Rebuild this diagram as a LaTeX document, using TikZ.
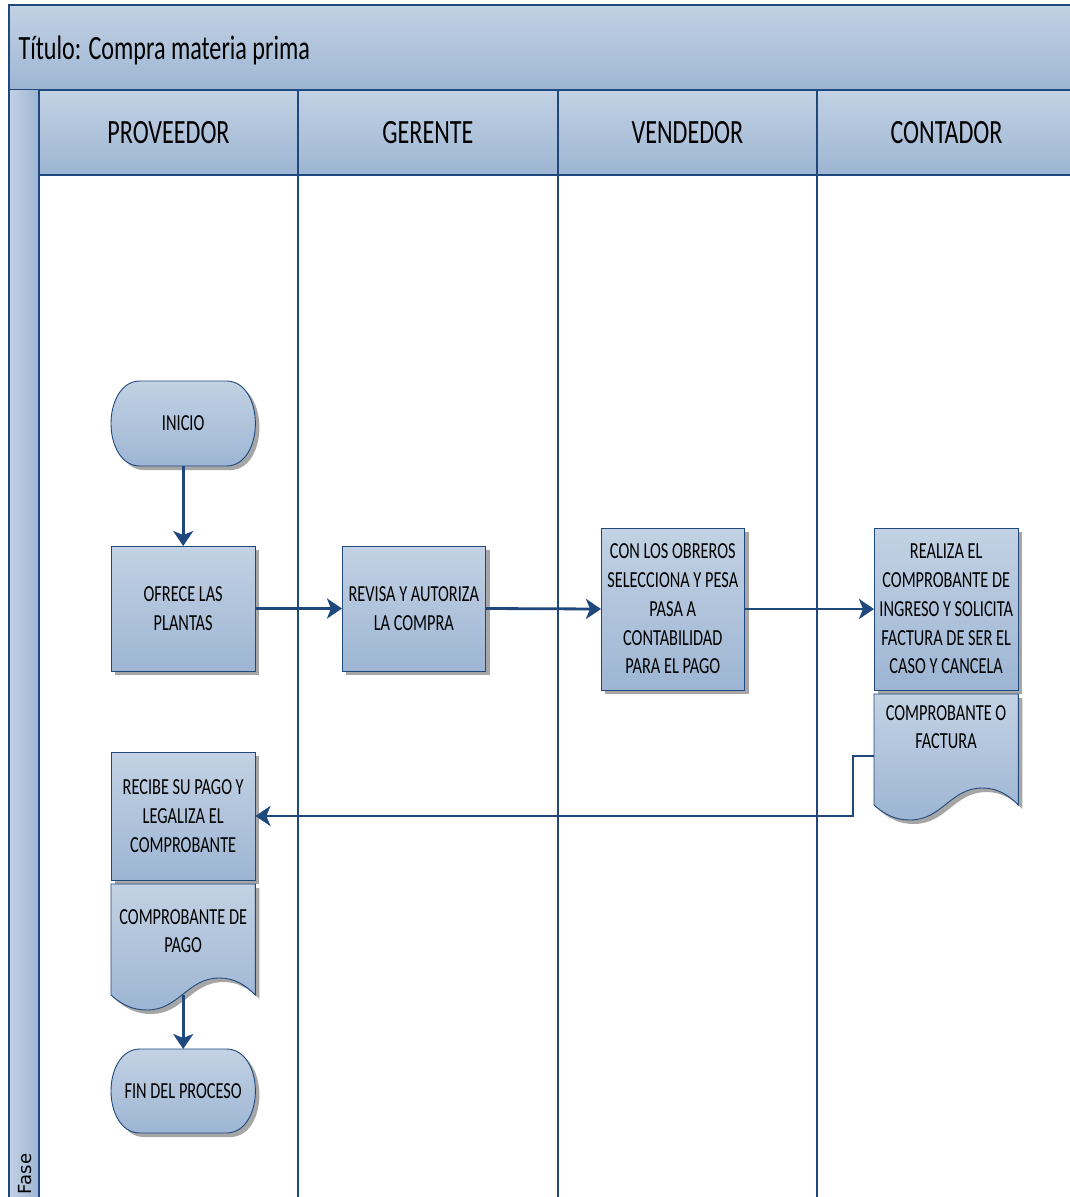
\documentclass[tikz,border=0pt]{standalone}
\usepackage{fontspec}
\usetikzlibrary{arrows.meta,shadows}
\setmainfont{Carlito}
\newfontfamily\narrowfont[FakeStretch=0.71]{Carlito}
\newfontfamily\fasefont{DejaVu Sans}
\definecolor{edge}{HTML}{1F497D}
\definecolor{shadetop}{HTML}{C3D2E4}
\definecolor{shadebot}{HTML}{9DB5D3}
\definecolor{shadowgray}{HTML}{A6A6A6}
\tikzset{
  x=1pt,y=-1pt,
  every node/.style={outer sep=0pt},
  fillshade/.style={top color=shadetop,bottom color=shadebot},
  band/.style={fillshade,draw=edge,line width=1.8pt,inner sep=0pt,anchor=north west,font=\narrowfont\fontsize{34}{40}\selectfont},
  bandline/.style={draw=edge,line width=1.8pt},
  flowbox/.style={fillshade,draw=edge,line width=0.9pt,inner sep=0pt,anchor=north west,align=center,
    font=\narrowfont\fontsize{23}{28.7}\selectfont,
    drop shadow={shadow xshift=4pt,shadow yshift=-4pt,fill=shadowgray,opacity=1}},
  flowshape/.style={fillshade,draw=edge,line width=0.9pt},
  hidden/.style={inner sep=0pt,anchor=north west,align=center},
  flowtext/.style={inner sep=0pt,align=center,font=\narrowfont\fontsize{23}{28.7}\selectfont},
  flowarrow/.style={draw=edge,line width=2.8pt,-{Stealth[length=15pt,width=20pt,inset=4pt]}},
}
% terminal: name, x, y, w, h, text
\newcommand{\termpath}[4]{(#1+29,#2) -- (#1+#3-29,#2) .. controls (#1+#3-10,#2) and (#1+#3,#2+#4*0.25) .. (#1+#3,#2+#4*0.5) .. controls (#1+#3,#2+#4*0.75) and (#1+#3-10,#2+#4) .. (#1+#3-29,#2+#4) -- (#1+29,#2+#4) .. controls (#1+10,#2+#4) and (#1,#2+#4*0.75) .. (#1,#2+#4*0.5) .. controls (#1,#2+#4*0.25) and (#1+10,#2) .. (#1+29,#2) -- cycle}
\newcommand{\terminal}[6]{%
  \fill[shadowgray,shift={(4pt,-4pt)}] \termpath{#2}{#3}{#4}{#5};%
  \path[flowshape] \termpath{#2}{#3}{#4}{#5};%
  \node[hidden,minimum width=#4pt,minimum height=#5pt,font=\narrowfont\fontsize{23}{28.7}\selectfont] (#1) at (#2,#3) {#6};%
}
% document: x, y(top), w, h(to left wave end)
\newcommand{\docpath}[4]{(#1,#2) -- (#1+#3,#2) -- (#1+#3,#2+#4) .. controls (#1+#3-11,#2+#4-11) and (#1+#3-22,#2+#4-17) .. (#1+#3-36,#2+#4-17) .. controls (#1+#3-68,#2+#4-17) and (#1+68,#2+#4+15) .. (#1+36,#2+#4+15) .. controls (#1+22,#2+#4+15) and (#1+11,#2+#4+10) .. (#1,#2+#4) -- cycle}
\newcommand{\docshape}[4]{%
  \fill[shadowgray,shift={(4pt,-4pt)}] \docpath{#1}{#2}{#3}{#4};%
  \path[flowshape] \docpath{#1}{#2}{#3}{#4};%
}
\begin{document}
\begin{tikzpicture}
\useasboundingbox (0,0) rectangle (1070,1197);
\fill[white] (0,0) rectangle (1070,1197);
% title band
\node[band,minimum width=1070pt,minimum height=85pt] (titleband) at (9,5) {};
\node[inner sep=0pt,anchor=west,font=\narrowfont\fontsize{34}{40}\selectfont] (titletext) at (18.5,50) {Título: Compra materia prima};
% phase strip
\path[left color=shadetop,right color=shadebot] (9,90) rectangle (39,1205);
\draw[bandline] (9,90) -- (9,1205);
\draw[bandline] (39,90) -- (39,1205);
\node[rotate=90,inner sep=0pt,font=\fasefont\fontsize{18}{20}\selectfont] (fase) at (25,1174) {Fase};
% headers
\node[band,minimum width=259pt,minimum height=85pt,text depth=-1pt] (h1) at (39,90) {PROVEEDOR};
\node[band,minimum width=260pt,minimum height=85pt,text depth=-1pt] (h2) at (298,90) {GERENTE};
\node[band,minimum width=259pt,minimum height=85pt,text depth=-1pt] (h3) at (558,90) {VENDEDOR};
\node[band,minimum width=259pt,minimum height=85pt,text depth=-1pt] (h4) at (817,90) {CONTADOR};
% lane lines
\draw[bandline] (h1.south east) -- ++(0,1030);
\draw[bandline] (h2.south east) -- ++(0,1030);
\draw[bandline] (h3.south east) -- ++(0,1030);
% shapes
\terminal{inicio}{111}{381}{144.4}{85}{INICIO}
\node[flowbox,minimum width=144.4pt,minimum height=125pt] (ofrece) at (111,546) {OFRECE LAS\\PLANTAS};
\node[flowbox,minimum width=143.6pt,minimum height=125pt] (revisa) at (342,546) {REVISA Y AUTORIZA\\LA COMPRA};
\node[flowbox,minimum width=143.6pt,minimum height=162pt] (conlos) at (601,528) {CON LOS OBREROS\\SELECCIONA Y PESA\\PASA A\\CONTABILIDAD\\PARA EL PAGO};
\node[flowbox,minimum width=144.4pt,minimum height=162pt] (realiza) at (874,528) {REALIZA EL\\COMPROBANTE DE\\INGRESO Y SOLICITA\\FACTURA DE SER EL\\CASO Y CANCELA};
\docshape{874}{694}{144.4}{111}
\node[hidden,minimum width=144.4pt,minimum height=124pt] (factura) at (874,694) {};
\node[flowtext] (facturatext) at (946,727) {COMPROBANTE O\\FACTURA};
\node[flowbox,minimum width=144.4pt,minimum height=128pt] (recibe) at (111,752) {RECIBE SU PAGO Y\\LEGALIZA EL\\COMPROBANTE};
\docshape{111}{884}{144.4}{111}
\node[hidden,minimum width=144.4pt,minimum height=111pt] (pago) at (111,884) {};
\node[flowtext] (pagotext) at (183.2,931) {COMPROBANTE DE\\PAGO};
\terminal{fin}{111}{1049}{144.4}{84}{FIN DEL PROCESO}
% connectors
\draw[flowarrow] (inicio.south) -- (ofrece.north);
\draw[flowarrow] (ofrece.east) -- (revisa.west);
\draw[flowarrow] (revisa.east) -- (conlos.west);
\draw[flowarrow] (conlos.east) -- (realiza.west);
\draw[flowarrow] (factura.west) -- ++(-21,0) |- (recibe.east);
\draw[flowarrow] (pago.south) -- (fin.north);
\end{tikzpicture}
\end{document}
